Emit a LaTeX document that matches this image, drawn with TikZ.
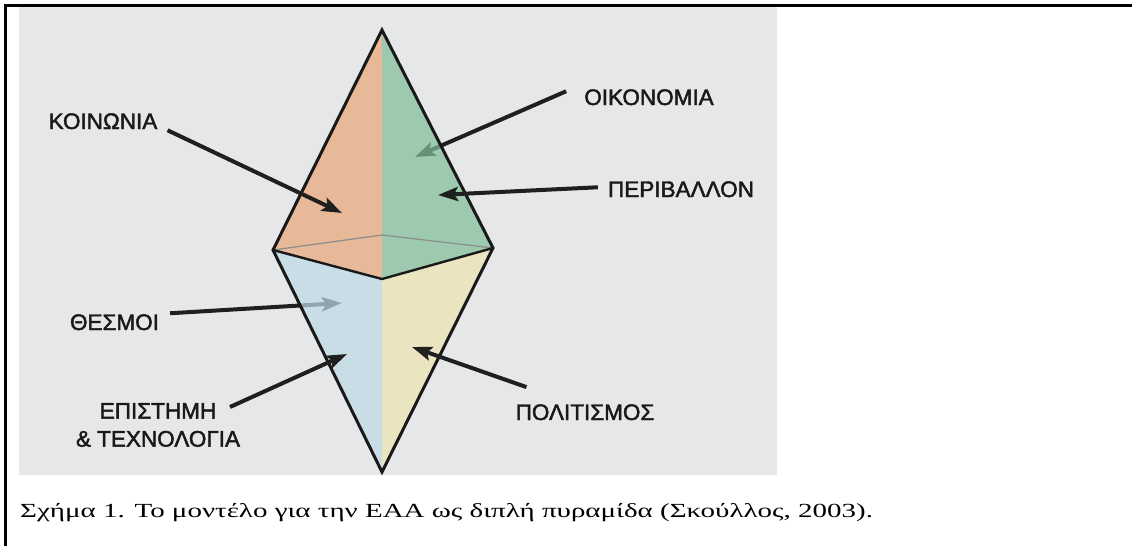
\documentclass[tikz,border=0pt]{standalone}
\usepackage{fontspec}
\setmainfont{Liberation Serif}
\newfontfamily\termfont[FakeBold=2]{Liberation Sans}
\newfontfamily\captionfont[FakeStretch=1.45]{Liberation Serif}
\usetikzlibrary{arrows.meta}

\definecolor{panelgray}{RGB}{230,231,233}
\definecolor{faceorange}{RGB}{233,168,121}
\definecolor{facegreen}{RGB}{129,191,153}
\definecolor{faceblue}{RGB}{190,218,229}
\definecolor{faceyellow}{RGB}{236,228,178}

\begin{document}
\begin{tikzpicture}[x=1pt, y=-1pt,
    term/.style={font=\termfont\fontsize{22.5}{28}\selectfont, inner sep=0pt,
      align=center, text=black!90},
    pointer/.style={-{Stealth[length=20pt,width=14pt,inset=4pt]},
      line width=4pt, draw=black!88},
    face/.style={fill opacity=0.72, draw=none},
    rim/.style={line width=3pt, draw=black!90},
    backedge/.style={line width=1.2pt, draw=black!45}
  ]
  \useasboundingbox (0,0) rectangle (1132,546);

  % panel and frame
  \fill[panelgray] (19,6.5) rectangle (777,475);
  \draw[line width=2.6pt] (4,5.3) -- (1132,5.3);
  \draw[line width=2.6pt] (5.3,4) -- (5.3,546);

  % corners of the double pyramid
  \coordinate (top) at (382,30);
  \coordinate (left) at (273,250);
  \coordinate (front) at (382,279);
  \coordinate (right) at (493,248);
  \coordinate (back) at (382,235);
  \coordinate (bottom) at (382,472);

  % where the arrows point
  \coordinate (koinonia-tip) at (342,213);
  \coordinate (oikonomia-tip) at (415,157);
  \coordinate (perivallon-tip) at (438,195);
  \coordinate (thesmoi-tip) at (342,303);
  \coordinate (episteme-tip) at (347,354);
  \coordinate (politismos-tip) at (412,347);

  \node[term, anchor=base] (koinonia) at (103,129) {ΚΟΙΝΩΝΙΑ};
  \node[term, anchor=base] (oikonomia) at (649,105) {ΟΙΚΟΝΟΜΙΑ};
  \node[term, anchor=base] (perivallon) at (681,197) {ΠΕΡΙΒΑΛΛΟΝ};
  \node[term, anchor=base] (thesmoi) at (114.5,330) {ΘΕΣΜΟΙ};
  \node[term] (episteme) at (158,425) {ΕΠΙΣΤΗΜΗ\\\& ΤΕΧΝΟΛΟΓΙΑ};
  \node[term, anchor=base] (politismos) at (585,420) {ΠΟΛΙΤΙΣΜΟΣ};

  % arrows to the hidden faces, seen through
  \draw[pointer] ([shift={(-18,-6)}]oikonomia.west) -- (oikonomia-tip);
  \draw[pointer] ([shift={(11,-9)}]thesmoi.east) -- (thesmoi-tip);

  % faces
  \fill[face, faceorange] (top) -- (left) -- (front) -- cycle;
  \fill[face, facegreen] (top) -- (front) -- (right) -- cycle;
  \fill[face, faceblue] (left) -- (front) -- (bottom) -- cycle;
  \fill[face, faceyellow] (front) -- (right) -- (bottom) -- cycle;

  % edges
  \draw[backedge] (left) -- (back) -- (right);
  \draw[rim, line width=2.4pt] (left) -- (front) -- (right);
  \draw[rim] (top) -- (left) -- (bottom) -- (right) -- cycle;

  % arrows in front
  \draw[pointer] ([shift={(10,9)}]koinonia.east) -- (koinonia-tip);
  \draw[pointer] ([shift={(-10,-2)}]perivallon.west) -- (perivallon-tip);
  \draw[pointer] ([shift={(72,-18)}]episteme.center) -- (episteme-tip);
  \draw[pointer] ([shift={(11,-17)}]politismos.north west) -- (politismos-tip);

  \node[anchor=base west, inner sep=0pt, font=\captionfont\fontsize{20}{24}\selectfont]
    (caption) at (20,517)
    {Σχήμα 1. Το μοντέλο για την ΕΑΑ ως διπλή πυραμίδα (Σκούλλος, 2003).};
\end{tikzpicture}
\end{document}
